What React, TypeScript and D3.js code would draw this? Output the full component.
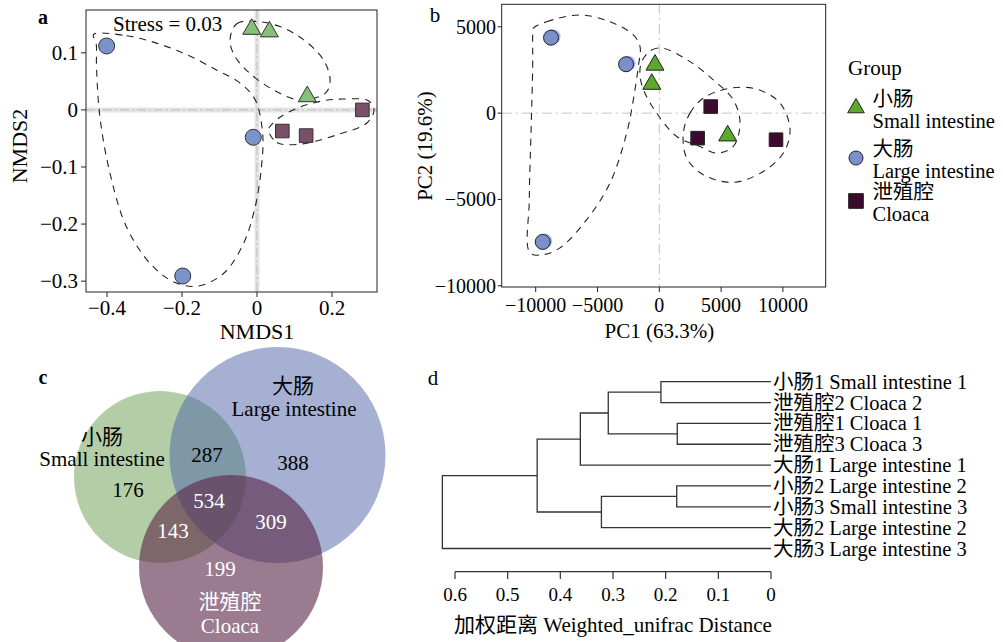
import * as d3 from "d3";

const FONT = "'Liberation Serif', 'Noto Sans CJK SC', serif";

// ---- panel a: NMDS ----
const nmdsSmall = [[-0.014, 0.1415], [0.033, 0.137], [0.134, 0.0234]];
const nmdsLarge = [[-0.401, 0.112], [-0.198, -0.291], [-0.01, -0.048]];
const nmdsCloaca = [[0.281, 0], [0.0675, -0.037], [0.131, -0.045]];
const nmdsHullLarge = [
  [-0.436, 0.132], [-0.348, 0.13], [-0.268, 0.117], [-0.188, 0.097], [-0.108, 0.07],
  [-0.045, 0.047], [-0.005, 0.018], [0.015, -0.041], [0.012, -0.099], [-0.005, -0.17],
  [-0.036, -0.234], [-0.09, -0.287], [-0.161, -0.309], [-0.223, -0.301], [-0.285, -0.269],
  [-0.348, -0.205], [-0.392, -0.111], [-0.419, -0.012], [-0.428, 0.076], [-0.429, 0.117],
];
const nmdsHullSmall = [
  [-0.072, 0.123], [-0.054, 0.151], [-0.001, 0.155], [0.061, 0.146], [0.124, 0.123],
  [0.177, 0.088], [0.195, 0.053], [0.186, 0.032], [0.155, 0.021], [0.106, 0.018],
  [0.044, 0.035], [-0.019, 0.064], [-0.059, 0.094],
];
const nmdsHullCloaca = [
  [0.03, -0.035], [0.053, -0.057], [0.115, -0.06], [0.221, -0.042], [0.293, -0.023],
  [0.312, 0], [0.297, 0.016], [0.23, 0.019], [0.177, 0.016], [0.115, 0.005],
  [0.061, -0.013], [0.035, -0.029],
];
const nmdsXTicks = [-0.4, -0.2, 0, 0.2];
const nmdsYTicks = [0.1, 0, -0.1, -0.2, -0.3];

// ---- panel b: PCA ----
const pcaSmall = [[-350, 2790], [-610, 1680], [5530, -1310]];
const pcaLarge = [[-8760, 4370], [-2690, 2830], [-9430, -7460]];
const pcaCloaca = [[4160, 380], [3100, -1450], [9440, -1540]];
const pcaHullLarge = [
  [-10194, 4913], [-9110, 5295], [-6416, 5682], [-3989, 5295], [-2104, 4526],
  [-1561, 3850], [-1699, 2694], [-2104, 769], [-2638, -1156], [-3989, -4046],
  [-5874, -6168], [-8034, -7803], [-9385, -8191], [-10461, -8092], [-10518, -5011],
  [-10380, -1156], [-10243, 2694], [-10243, 4428],
];
const pcaHullSmall = [
  [-1424, 2983], [-615, 3659], [324, 3757], [2484, 2983], [4369, 1925],
  [5987, 769], [6529, -578], [5987, -1931], [4644, -2312], [3293, -1931],
  [1408, -1353], [-210, 0], [-1157, 1156], [-1561, 2116],
];
const pcaHullCloaca = [
  [1942, -1156], [2484, 0], [3560, 867], [5720, 1445], [7880, 1387],
  [9765, 578], [10574, -965], [10032, -2312], [8414, -3376], [5987, -4011],
  [3560, -3566], [2217, -2601],
];
const pcaXTicks = [-10000, -5000, 0, 5000, 10000];
const pcaYTicks = [5000, 0, -5000, -10000];
const groupNames = [["小肠", "Small intestine"], ["大肠", "Large intestine"], ["泄殖腔", "Cloaca"]];

// ---- panel c: Venn ----
const vennOnly = [176, 388, 199]; // small, large, cloaca
const vennPairs = [287, 143, 309]; // small&large, small&cloaca, large&cloaca
const vennAll = 534;

// ---- panel d: dendrogram ----
const treeLeaves = [
  "小肠1 Small intestine 1",
  "泄殖腔2 Cloaca 2",
  "泄殖腔1 Cloaca 1",
  "泄殖腔3 Cloaca 3",
  "大肠1 Large intestine 1",
  "小肠2 Large intestine 2",
  "小肠3 Small intestine 3",
  "大肠2 Large intestine 2",
  "大肠3 Large intestine 3",
];
// [childA, childB, height]; ids >= 9 are earlier merges
const treeMerges = [
  [2, 3, 0.178],
  [5, 6, 0.179],
  [0, 1, 0.209],
  [11, 9, 0.309],
  [10, 7, 0.322],
  [12, 4, 0.362],
  [14, 13, 0.444],
  [15, 8, 0.624],
];
const treeTicks = [0.6, 0.5, 0.4, 0.3, 0.2, 0.1, 0];

const fmt = (v: number) => String(v).replace("-", "−");

export default function App() {
  const ax = d3.scaleLinear().domain([-0.456, 0.32]).range([86, 377]);
  const ay = d3.scaleLinear().domain([-0.319, 0.175]).range([292, 10]);
  const bx = d3.scaleLinear().domain([-12750, 13460]).range([501.7, 825.7]);
  const by = d3.scaleLinear().domain([-10070, 6320]).range([287, 4]);
  const dx = d3.scaleLinear().domain([0.6, 0]).range([455, 771]);
  const dy = d3.scaleLinear().domain([0, 8]).range([381.7, 548.5]);

  const hull = (sx: any, sy: any) =>
    d3.line<number[]>().x((d) => sx(d[0])).y((d) => sy(d[1])).curve(d3.curveCatmullRomClosed.alpha(0.5));
  const hullA = hull(ax, ay);
  const hullB = hull(bx, by);

  const tri = d3.symbol(d3.symbolTriangle, 140)();
  const sq = d3.symbol(d3.symbolSquare, 185)();
  const triLeg = d3.symbol(d3.symbolTriangle, 120)();
  const sqLeg = d3.symbol(d3.symbolSquare, 215)();

  // dendrogram segments
  const nodeY = treeLeaves.map((_, i) => dy(i));
  const nodeH = treeLeaves.map(() => 0);
  let treePath = "";
  treeMerges.forEach(([a, b, h]) => {
    const x = dx(h);
    treePath += `M${dx(nodeH[a])},${nodeY[a]}H${x}V${nodeY[b]}H${dx(nodeH[b])}`;
    nodeY.push((nodeY[a] + nodeY[b]) / 2);
    nodeH.push(h);
  });

  const hullStyle = { fill: "none", stroke: "#222", strokeWidth: 1.1, strokeDasharray: "7,6" };

  return (
    <div style={{ position: "absolute", left: 0, top: 0 }}>
      <svg width={1003} height={642} style={{ display: "block", background: "#fff" }} fontFamily={FONT}>
        {/* ===== panel a ===== */}
        <text x={43} y={17} fontSize={20} fontWeight="bold" dominantBaseline="central" textAnchor="middle">a</text>
        <line x1={ax(0)} x2={ax(0)} y1={10} y2={292} stroke="#e4e4e4" strokeWidth={5} />
        <line x1={86} x2={377} y1={ay(0)} y2={ay(0)} stroke="#e4e4e4" strokeWidth={5} />
        <line x1={ax(0)} x2={ax(0)} y1={10} y2={292} stroke="#bdbdbd" strokeDasharray="9,3,2,3" />
        <line x1={86} x2={377} y1={ay(0)} y2={ay(0)} stroke="#bdbdbd" strokeDasharray="9,3,2,3" />
        <path d={hullA(nmdsHullLarge) || ""} {...hullStyle} />
        <path d={hullA(nmdsHullSmall) || ""} {...hullStyle} />
        <path d={hullA(nmdsHullCloaca) || ""} {...hullStyle} />
        {nmdsLarge.map((d, i) => (
          <circle key={"al" + i} cx={ax(d[0])} cy={ay(d[1])} r={8} fill="#7b93cb" stroke="#333" strokeWidth={1} />
        ))}
        {nmdsSmall.map((d, i) => (
          <path key={"as" + i} d={tri || ""} transform={`translate(${ax(d[0])},${ay(d[1])})`} fill="#86c07a" stroke="#333" strokeWidth={1} />
        ))}
        {nmdsCloaca.map((d, i) => (
          <path key={"ac" + i} d={sq || ""} transform={`translate(${ax(d[0])},${ay(d[1])})`} fill="#7a4f6a" stroke="#333" strokeWidth={1} />
        ))}
        <rect x={86} y={10} width={291} height={282} fill="none" stroke="#222" />
        {nmdsXTicks.map((t) => (
          <g key={"axt" + t}>
            <line x1={ax(t)} x2={ax(t)} y1={292} y2={297} stroke="#222" />
            <text x={ax(t)} y={315} fontSize={21} textAnchor="middle">{fmt(t)}</text>
          </g>
        ))}
        {nmdsYTicks.map((t) => (
          <g key={"ayt" + t}>
            <line x1={81} x2={86} y1={ay(t)} y2={ay(t)} stroke="#222" />
            <text x={78} y={ay(t)} fontSize={21} textAnchor="end" dominantBaseline="central">{fmt(t)}</text>
          </g>
        ))}
        <text x={113} y={24} fontSize={21} dominantBaseline="central">Stress = 0.03</text>
        <text x={ax(0)} y={339} fontSize={22} textAnchor="middle">NMDS1</text>
        <text transform="translate(19,146) rotate(-90)" fontSize={22} textAnchor="middle" dominantBaseline="central">NMDS2</text>

        {/* ===== panel b ===== */}
        <text x={435} y={15} fontSize={21} dominantBaseline="central" textAnchor="middle">b</text>
        <line x1={bx(0)} x2={bx(0)} y1={4} y2={287} stroke="#c4c4c4" strokeDasharray="10,4,2,4" />
        <line x1={501.7} x2={825.7} y1={by(0)} y2={by(0)} stroke="#c4c4c4" strokeDasharray="10,4,2,4" />
        <path d={hullB(pcaHullLarge) || ""} {...hullStyle} />
        <path d={hullB(pcaHullSmall) || ""} {...hullStyle} />
        <path d={hullB(pcaHullCloaca) || ""} {...hullStyle} />
        {pcaLarge.map((d, i) => (
          <g key={"bl" + i}>
            <circle cx={bx(d[0]) + 2} cy={by(d[1]) - 1} r={7.5} fill="#a6bbee" />
            <circle cx={bx(d[0])} cy={by(d[1])} r={7.5} fill="#7b8fc8" stroke="#222" strokeWidth={1} />
          </g>
        ))}
        {pcaSmall.map((d, i) => (
          <path key={"bs" + i} d={tri || ""} transform={`translate(${bx(d[0])},${by(d[1])})`} fill="#5aab2c" stroke="#222" strokeWidth={1} />
        ))}
        {pcaCloaca.map((d, i) => (
          <path key={"bc" + i} d={sq || ""} transform={`translate(${bx(d[0])},${by(d[1])})`} fill="#3d0a2e" stroke="#222" strokeWidth={1} />
        ))}
        <rect x={501.7} y={4.3} width={324} height={282.7} fill="none" stroke="#222" />
        {pcaXTicks.map((t) => (
          <g key={"bxt" + t}>
            <line x1={bx(t)} x2={bx(t)} y1={287} y2={292} stroke="#222" />
            <text x={bx(t)} y={311.5} fontSize={20} textAnchor="middle">{fmt(t)}</text>
          </g>
        ))}
        {pcaYTicks.map((t) => (
          <g key={"byt" + t}>
            <line x1={497.7} x2={501.7} y1={by(t)} y2={by(t)} stroke="#222" />
            <text x={496} y={by(t)} fontSize={20} textAnchor="end" dominantBaseline="central">{fmt(t)}</text>
          </g>
        ))}
        <text x={bx(0)} y={338} fontSize={21} textAnchor="middle">PC1 (63.3%)</text>
        <text transform="translate(425,146) rotate(-90)" fontSize={21} textAnchor="middle" dominantBaseline="central">PC2 (19.6%)</text>

        {/* legend */}
        <text x={848} y={68} fontSize={21} dominantBaseline="central">Group</text>
        {groupNames.map((g, i) => {
          const cy = [108, 158, 201][i];
          return (
            <g key={"leg" + i}>
              {i === 0 && <path d={triLeg || ""} transform={`translate(856,${cy})`} fill="#5aab2c" stroke="#222" />}
              {i === 1 && <circle cx={856} cy={cy} r={7} fill="#7b8fc8" stroke="#222" />}
              {i === 2 && <path d={sqLeg || ""} transform={`translate(856,${cy})`} fill="#3d0a2e" stroke="#222" />}
              <text x={872.5} y={cy - 9} fontSize={20.5} dominantBaseline="central">{g[0]}</text>
              <text x={872.5} y={cy + 13} fontSize={20.5} dominantBaseline="central">{g[1]}</text>
            </g>
          );
        })}

        {/* ===== panel c ===== */}
        <text x={43} y={377} fontSize={20} fontWeight="bold" dominantBaseline="central" textAnchor="middle">c</text>
        <circle cx={160} cy={477} r={86} fill="rgb(103,157,77)" fillOpacity={0.5} />
        <circle cx={277.5} cy={455} r={108} fill="rgb(75,97,167)" fillOpacity={0.5} />
        <circle cx={231} cy={567} r={92} fill="rgb(88,35,68)" fillOpacity={0.6} />
        <g fontSize={21} textAnchor="middle" dominantBaseline="central">
          <text x={293} y={386}>大肠</text>
          <text x={294} y={409}>Large intestine</text>
          <text x={102} y={437}>小肠</text>
          <text x={102} y={459}>Small intestine</text>
          <text x={128} y={490}>{vennOnly[0]}</text>
          <text x={293} y={463}>{vennOnly[1]}</text>
          <text x={207} y={455}>{vennPairs[0]}</text>
          <g fill="#fff">
            <text x={209} y={501}>{vennAll}</text>
            <text x={173} y={530.5}>{vennPairs[1]}</text>
            <text x={271} y={521.5}>{vennPairs[2]}</text>
            <text x={220} y={569}>{vennOnly[2]}</text>
            <text x={230} y={602}>泄殖腔</text>
            <text x={230} y={626}>Cloaca</text>
          </g>
        </g>

        {/* ===== panel d ===== */}
        <text x={433} y={378} fontSize={21} dominantBaseline="central" textAnchor="middle">d</text>
        <path d={treePath} fill="none" stroke="#333" strokeWidth={1.3} />
        {treeLeaves.map((l, i) => (
          <text key={"leaf" + i} x={773} y={dy(i)} fontSize={20.5} dominantBaseline="central">{l}</text>
        ))}
        <line x1={dx(0.6)} x2={dx(0)} y1={571.7} y2={571.7} stroke="#333" strokeWidth={1.2} />
        {treeTicks.map((t) => (
          <g key={"dt" + t}>
            <line x1={dx(t)} x2={dx(t)} y1={571.7} y2={579} stroke="#333" strokeWidth={1.2} />
            <text x={dx(t)} y={594} fontSize={19} textAnchor="middle" dominantBaseline="central">{fmt(t)}</text>
          </g>
        ))}
        <text x={613} y={625} fontSize={21} textAnchor="middle" dominantBaseline="central">加权距离 Weighted_unifrac Distance</text>
      </svg>
    </div>
  );
}
